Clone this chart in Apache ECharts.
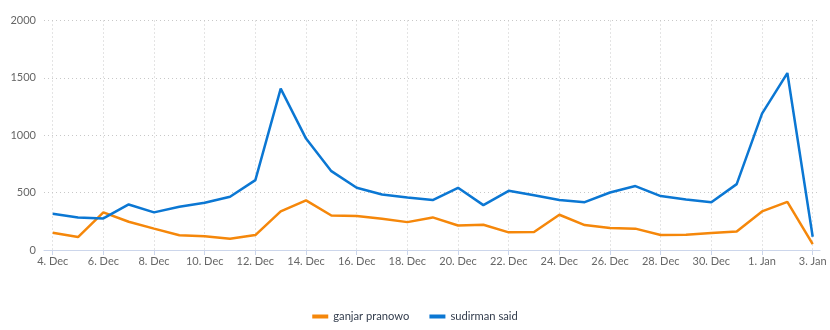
<!DOCTYPE html>
<html><head><meta charset="utf-8">
<script src="https://cdn.jsdelivr.net/npm/echarts@6/dist/echarts.min.js"></script>
<style>html,body{margin:0;padding:0;background:#fff}#c{width:830px;height:330px}</style>
</head><body><div id="c"></div>
<script>
const categories = ["4. Dec","5. Dec","6. Dec","7. Dec","8. Dec","9. Dec","10. Dec","11. Dec","12. Dec","13. Dec","14. Dec","15. Dec","16. Dec","17. Dec","18. Dec","19. Dec","20. Dec","21. Dec","22. Dec","23. Dec","24. Dec","25. Dec","26. Dec","27. Dec","28. Dec","29. Dec","30. Dec","31. Dec","1. Jan","2. Jan","3. Jan"];
const ganjar = [151,113,328,246,186,128,119,99,130,336,432,301,296,272,243,284,214,220,154,157,307,217,191,186,130,133,148,162,336,420,52];
const sudirman = [316,284,275,397,328,377,412,464,609,1406,971,687,542,484,458,435,542,391,516,478,435,417,501,557,470,441,417,574,1188,1542,116];
const yTicks = [0,500,1000,1500,2000];
const seriesNames = ["ganjar pranowo","sudirman said"];

const font = "Lato, 'Open Sans', sans-serif";
const chart = echarts.init(document.getElementById('c'), null, {renderer:'canvas'});
chart.setOption({
  animation:false,
  textStyle:{fontFamily:font},
  color:['#f5870a','#0b77d3'],
  legend:{
    bottom:3, left:'center', itemWidth:16, itemHeight:4, itemGap:20,
    icon:'rect',
    textStyle:{fontFamily:font,fontSize:11.2,color:'#333d4d'},
    data:seriesNames
  },
  grid:[
    {left:44, right:10, top:20.5, bottom:80},
    {left:52.7, right:17.3, top:20.5, bottom:80}
  ],
  xAxis:[
    {gridIndex:0, type:'value', min:0, max:1, show:true,
     axisLine:{show:true,lineStyle:{color:'#ccd6eb',width:1}},
     axisTick:{show:false}, axisLabel:{show:false}, splitLine:{show:false}},
    {gridIndex:1, type:'category', data:categories, boundaryGap:false,
     axisLine:{show:false},
     axisTick:{show:true, interval:1, length:5, lineStyle:{color:'#ccd6eb'}},
     axisLabel:{interval:1, color:'#666', fontSize:11, fontFamily:font, margin:6},
     splitLine:{show:true, interval:1, lineStyle:{color:'#c8c8c8', type:[1,3], width:1}}}
  ],
  yAxis:[
    {gridIndex:0, type:'value', min:yTicks[0], max:yTicks[yTicks.length-1], interval:yTicks[1]-yTicks[0],
     axisLine:{show:false}, axisTick:{show:false},
     axisLabel:{color:'#666', fontSize:11, fontFamily:font, margin:8, formatter:v=>String(v)},
     splitLine:{show:true, lineStyle:{color:'#c8c8c8', type:[1,3], width:1}}},
    {gridIndex:1, type:'value', min:yTicks[0], max:yTicks[yTicks.length-1], interval:yTicks[1]-yTicks[0], show:false,
     splitLine:{show:false}}
  ],
  series:[
    {name:seriesNames[0], type:'line', xAxisIndex:1, yAxisIndex:1, data:ganjar,
     showSymbol:false, symbol:'none', lineStyle:{width:2.5}},
    {name:seriesNames[1], type:'line', xAxisIndex:1, yAxisIndex:1, data:sudirman,
     showSymbol:false, symbol:'none', lineStyle:{width:2.5}}
  ]
});
</script></body></html>
